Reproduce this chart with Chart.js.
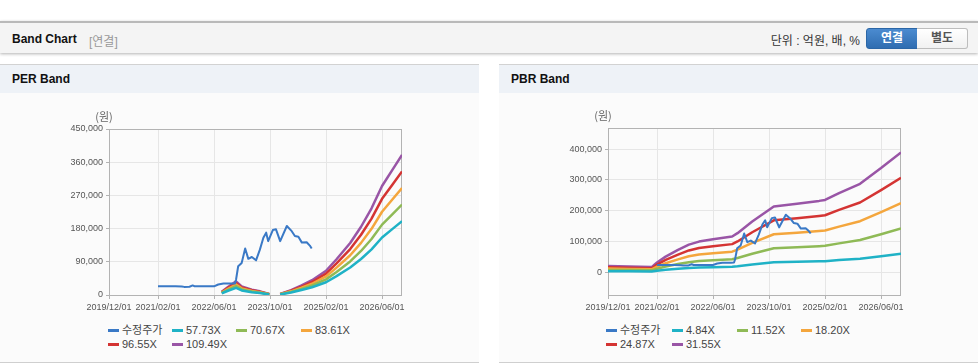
<!DOCTYPE html>
<html>
<head>
<meta charset="utf-8">
<script src="https://cdn.jsdelivr.net/npm/chart.js@4"></script>
<style>
  body { margin: 0; width: 978px; height: 364px; background: #fff; position: relative; overflow: hidden;
         font-family: "Liberation Sans", "Noto Sans CJK KR", sans-serif; }
  #hdr { position: absolute; left: 0; top: 21px; width: 978px; height: 30px; background: #f4f4f4;
         border-top: 2px solid #b9b9b9; box-shadow: 0 1px 3px rgba(0,0,0,0.3); }
  #hdr .t { position: absolute; left: 12px; top: 9px; font-size: 12px; font-weight: bold; color: #111; }
  #hdr .sub { position: absolute; left: 89px; top: 9px; font-size: 12px; color: #999; }
  #hdr .unit { position: absolute; right: 118px; top: 8px; font-size: 12px; color: #333; }
  #hdr .btn { position: absolute; top: 5px; width: 50px; height: 19px; line-height: 19px; text-align: center;
              font-size: 12px; font-weight: bold; }
  #hdr .on { left: 866px; color: #fff; background: linear-gradient(#4b8bd0, #2f6db1); border: 1px solid #2b66a6;
             border-radius: 3px 0 0 3px; }
  #hdr .off { left: 917px; color: #555; background: linear-gradient(#fff, #f1f1f1); border: 1px solid #bdbdbd;
              border-left: none; border-radius: 0 3px 3px 0; }
  .panel { position: absolute; top: 64px; width: 479px; height: 299px; background: #fbfbfb;
           border-top: 1px solid #d2d2d2; border-bottom: 1px solid #cfcfcf; box-sizing: border-box; }
  .ptitle { position: absolute; left: 0; top: 0; width: 479px; height: 28px; background: #eef2f7;
            font-size: 12px; font-weight: bold; color: #111; line-height: 28px; text-indent: 12px; }
  .panel canvas { position: absolute; left: 0; top: 35px; }
  .legend { position: absolute; left: 0; top: 258px; width: 479px; height: 34px; }
  .li { position: absolute; font-size: 11px; color: #444; white-space: nowrap; line-height: 14px; }
  .li i { position: absolute; left: -14px; top: 6px; width: 11px; height: 3px; }
</style>
</head>
<body>
<div id="hdr">
  <span class="t">Band Chart</span><span class="sub">[연결]</span>
  <span class="unit">단위 : 억원, 배, %</span>
  <span class="btn on">연결</span><span class="btn off">별도</span>
</div>

<div class="panel" style="left:0">
  <div class="ptitle">PER Band</div>
  <canvas id="per" width="479" height="215"></canvas>
  <div class="legend" id="perLegend"></div>
</div>
<div class="panel" style="left:499px">
  <div class="ptitle">PBR Band</div>
  <canvas id="pbr" width="479" height="215"></canvas>
  <div class="legend" id="pbrLegend"></div>
</div>

<script>
// x axis
const xTickLabels = ['2019/12/01', '2021/02/01', '2022/06/01', '2023/10/01', '2025/02/01', '2026/06/01'];
const xStart = '2019/12/01';
const xEnd = '2026/11/22';
const unitLabel = '(원)';

// adjusted price (shared by both charts)
const priceDates = ['2021/02/01', '2021/04/01', '2021/07/01', '2021/08/25', '2021/09/15', '2021/11/01', '2021/11/28',
  '2021/12/15', '2022/04/01', '2022/06/01', '2022/07/07', '2022/08/22', '2022/11/04', '2022/12/01', '2022/12/10',
  '2022/12/28', '2023/01/28', '2023/02/28', '2023/03/25', '2023/04/25', '2023/06/01', '2023/07/04', '2023/08/04',
  '2023/08/28', '2023/09/15', '2023/10/25', '2023/11/22', '2023/12/28', '2024/02/25', '2024/04/07', '2024/05/04',
  '2024/06/04', '2024/07/04', '2024/08/15', '2024/09/12', '2024/09/28'];
const priceValues = [23500, 23500, 23500, 23000, 22000, 22300, 26000,
  23500, 23500, 23500, 28500, 31000, 31000, 31500, 42000,
  78000, 87000, 126000, 98000, 103000, 94000, 123000, 155000,
  169000, 146000, 176000, 178000, 146000, 187000, 173000, 160000,
  158000, 142000, 143000, 134000, 126000];

// PER band
const perNames = ['수정주가', '57.73X', '70.67X', '83.61X', '96.55X', '109.49X'];
const perTicks = [0, 90000, 180000, 270000, 360000, 450000];
const perDates = ['2022/08/07', '2022/10/01', '2022/12/10', '2023/01/28', '2023/04/25', '2023/07/04', '2023/09/25',
  '2023/11/01', '2023/12/28', '2024/04/01', '2024/07/01', '2024/10/01', '2025/02/01', '2025/05/01', '2025/08/28',
  '2025/12/01', '2026/03/01', '2026/06/01', '2026/09/01', '2026/11/22'];
const per5773 = [4600, 11500, 19500, 12400, 7600, 5200, 1400, null, 1400, 6900, 13700, 21100, 34600, 51100, 74400,
  97600, 123900, 155900, 179300, 200300];
const per7067 = [5700, 14100, 23900, 15100, 9300, 6400, 1800, null, 1800, 8400, 16700, 25800, 42400, 62600, 91000,
  119400, 151700, 190800, 219400, 245200];
const per8361 = [6700, 16700, 28300, 17900, 11000, 7500, 2100, null, 2100, 10000, 19800, 30500, 50200, 74100, 107700,
  141300, 179400, 225700, 259600, 290100];
const per9655 = [7700, 19300, 32600, 20700, 12700, 8700, 2400, null, 2400, 11500, 22900, 35200, 57900, 85500, 124400,
  163200, 207200, 260700, 299800, 335000];
const per10949 = [8800, 21900, 37000, 23400, 14500, 9900, 2700, null, 2700, 13000, 25900, 40000, 65700, 97000, 141000,
  185000, 235000, 295600, 340000, 379900];

// PBR band
const pbrNames = ['수정주가', '4.84X', '11.52X', '18.20X', '24.87X', '31.55X'];
const pbrTicks = [0, 100000, 200000, 300000, 400000];
const pbrDates = ['2019/12/01', '2020/06/01', '2020/12/15', '2021/02/01', '2021/04/15', '2021/08/01', '2021/11/04',
  '2022/02/01', '2022/06/01', '2022/11/15', '2023/01/01', '2023/05/07', '2023/11/12', '2024/06/01', '2024/12/10',
  '2025/02/01', '2025/06/01', '2025/12/01', '2026/06/01', '2026/11/22'];
const pbr484 = [3100, 2900, 2600, 4800, 7800, 11100, 13800, 15300, 16500, 17800, 19500, 25300, 32800, 34200, 35600,
  36100, 39500, 44100, 52000, 59800];
const pbr1152 = [7500, 6900, 6100, 11500, 18500, 26500, 32800, 36400, 39200, 42400, 46400, 60300, 78100, 81300, 84700,
  85800, 93900, 105000, 123700, 142300];
const pbr1820 = [11800, 10900, 9600, 18200, 29300, 41900, 51900, 57500, 61900, 66900, 73300, 95200, 123500, 128500,
  133800, 135600, 148400, 165900, 195400, 224800];
const pbr2487 = [16200, 14900, 13200, 24900, 40000, 57200, 70900, 78600, 84600, 91400, 100100, 130100, 168700, 175600,
  182900, 185300, 202800, 226700, 267000, 307100];
const pbr3155 = [20500, 18900, 16700, 31600, 50800, 72600, 89900, 99700, 107300, 116000, 127000, 165000, 214000,
  222700, 232000, 235000, 257300, 287600, 338700, 389600];

const colors = ['#3a79c6', '#1fb2c6', '#8fba56', '#f4a63d', '#d43433', '#9955a6'];

// 'YYYY/MM/DD' -> months since 2019/12
function toMonth(d) {
  const [y, m, day] = d.split('/').map(Number);
  return (y - 2019) * 12 + (m - 12) + (day - 1) / 30;
}

function series(dates, values) {
  return dates.map((d, i) => ({ x: toMonth(d), y: values[i] }));
}

const frame = {
  id: 'frame',
  beforeDatasetsDraw(chart) {
    const { ctx, chartArea: a } = chart;
    ctx.save();
    ctx.strokeStyle = '#b3b3b3';
    ctx.lineWidth = 1;
    ctx.strokeRect(Math.round(a.left) + 0.5, Math.round(a.top) + 0.5, Math.round(a.width) - 1, Math.round(a.height));
    ctx.fillStyle = '#666';
    ctx.font = '11px "Noto Sans CJK KR", sans-serif';
    ctx.textAlign = 'center';
    ctx.textBaseline = 'middle';
    ctx.fillText(unitLabel, a.left - 5, a.top - 12);
    ctx.restore();
  }
};

const tickFont = { family: '"Liberation Sans", sans-serif', size: 9 };

function makeChart(id, bands, yMin, yMax, yTicks, topPad) {
  const datasets = [{ data: series(priceDates, priceValues), borderColor: colors[0], borderWidth: 2 }];
  bands.forEach((b, i) => {
    datasets.push({ data: series(b.dates, b.values), borderColor: colors[i + 1], borderWidth: 2.5 });
  });
  datasets.forEach(ds => {
    ds.pointRadius = 0;
    ds.fill = false;
    ds.tension = 0;
    ds.spanGaps = false;
    ds.borderJoinStyle = 'round';
  });

  new Chart(document.getElementById(id), {
    type: 'line',
    data: { datasets },
    options: {
      responsive: false,
      animation: false,
      layout: { padding: { left: 59, right: 77, top: topPad, bottom: 0 } },
      plugins: { legend: { display: false }, tooltip: { enabled: false } },
      scales: {
        x: {
          type: 'linear',
          min: toMonth(xStart),
          max: toMonth(xEnd),
          afterBuildTicks: s => { s.ticks = xTickLabels.map(d => ({ value: toMonth(d) })); },
          afterFit: s => { s.height = 20; },
          ticks: { callback: (v, i) => xTickLabels[i], autoSkip: false, maxRotation: 0, font: tickFont,
                   color: '#555', padding: 3 },
          grid: { color: '#e6e6e6', tickColor: '#b3b3b3', tickLength: 4 },
          border: { display: false }
        },
        y: {
          min: yMin,
          max: yMax,
          afterBuildTicks: s => { s.ticks = yTicks.map(v => ({ value: v })); },
          afterFit: s => { s.width = 50; },
          ticks: { callback: v => v.toLocaleString('en-US'), font: tickFont, color: '#555', padding: 3 },
          grid: { color: '#e6e6e6', tickColor: '#b3b3b3', tickLength: 3 },
          border: { display: false }
        }
      }
    },
    plugins: [frame]
  });
}

function buildLegend(id, names, textCols) {
  const el = document.getElementById(id);
  names.forEach((n, i) => {
    const item = document.createElement('div');
    item.className = 'li';
    item.style.left = textCols[i % 4] + 'px';
    item.style.top = (Math.floor(i / 4) * 14) + 'px';
    item.innerHTML = `<i style="background:${colors[i]}"></i>${n}`;
    el.appendChild(item);
  });
}

makeChart('per', [
  { dates: perDates, values: per5773 },
  { dates: perDates, values: per7067 },
  { dates: perDates, values: per8361 },
  { dates: perDates, values: per9655 },
  { dates: perDates, values: per10949 }
], 0, 450000, perTicks, 29);

makeChart('pbr', [
  { dates: pbrDates, values: pbr484 },
  { dates: pbrDates, values: pbr1152 },
  { dates: pbrDates, values: pbr1820 },
  { dates: pbrDates, values: pbr2487 },
  { dates: pbrDates, values: pbr3155 }
], -74000, 469000, pbrTicks, 28);

buildLegend('perLegend', perNames, [122, 186, 250, 315]);
buildLegend('pbrLegend', pbrNames, [121, 187, 252, 316]);
</script>
</body>
</html>
